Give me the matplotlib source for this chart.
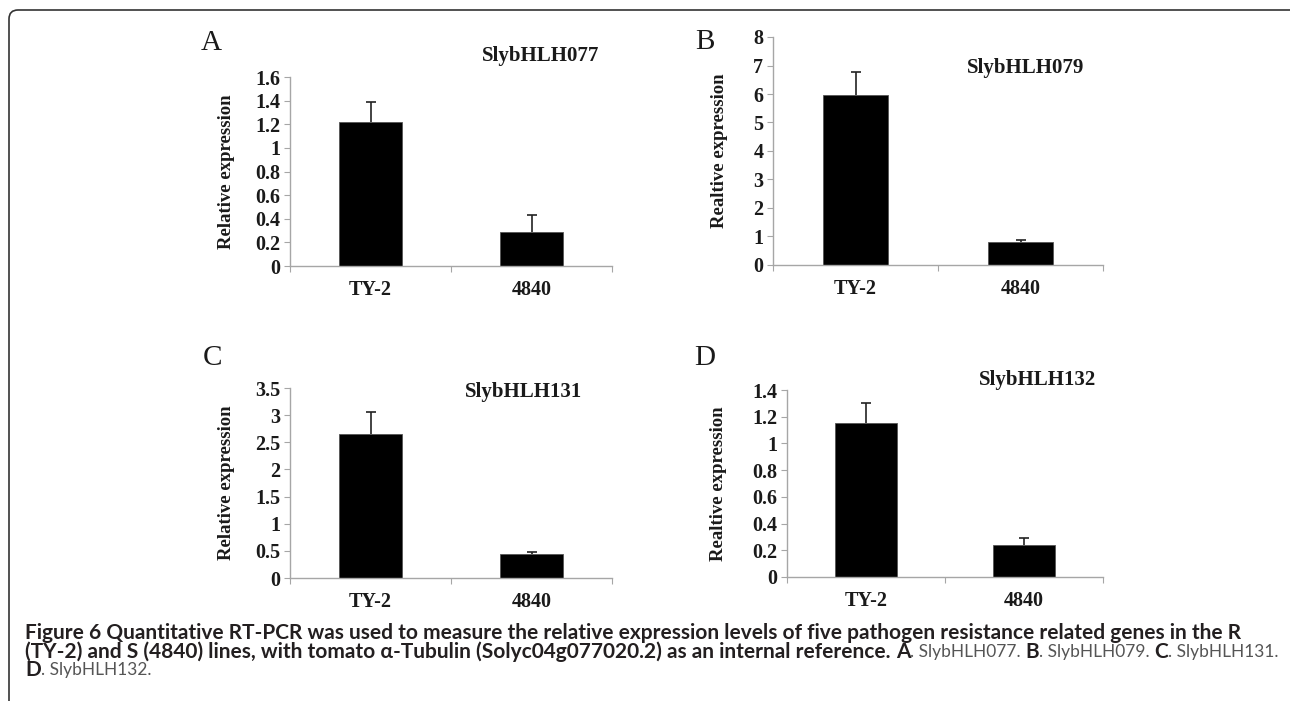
import numpy as np
import matplotlib
matplotlib.use("Agg")
import matplotlib.pyplot as plt
from matplotlib.patches import FancyBboxPatch
from matplotlib.transforms import IdentityTransform
from matplotlib.ticker import FixedLocator, FuncFormatter

# data
lines = ["TY-2", "4840"]
genes = ["SlybHLH077", "SlybHLH079", "SlybHLH131", "SlybHLH132"]
panel_letters = ["A", "B", "C", "D"]
ylabels = ["Relative expression", "Realtive expression",
           "Relative expression", "Realtive expression"]
mean_077 = [1.22, 0.29]
err_077 = [0.17, 0.14]
mean_079 = [5.98, 0.80]
err_079 = [0.78, 0.07]
mean_131 = [2.65, 0.45]
err_131 = [0.41, 0.03]
mean_132 = [1.15, 0.24]
err_132 = [0.15, 0.05]
ymax = [1.6, 8, 3.5, 1.4]
ystep = [0.2, 1, 0.5, 0.2]

means = [mean_077, mean_079, mean_131, mean_132]
errs = [err_077, err_079, err_131, err_132]

W, H = 1290, 701
fig = plt.figure(figsize=(W / 100, H / 100), dpi=100)

# axes boxes in pixels: left, right, top(ymax), bottom(0)
boxes = [(290, 612, 77, 266), (773, 1103, 37, 265),
         (290, 612, 388, 578), (787, 1103, 390, 577)]
title_pos = [(541, 56), (1026, 68), (524, 392), (1038, 380)]
letter_pos = [(211, 43), (705, 42), (212, 358), (705, 358)]
ylab_x = [235, 728, 235, 727]

serif = "Liberation Serif"
axis_grey = "#a6a6a6"
ink = "#1a1a1a"

for i in range(4):
    l, r, t, b = boxes[i]
    ax = fig.add_axes([l / W, 1 - b / H, (r - l) / W, (b - t) / H])
    x = np.arange(len(lines)) + 0.5
    m = np.array(means[i])
    e = np.array(errs[i])
    ax.bar(x, m, width=0.39, color="black", edgecolor="#555555", linewidth=0.6, zorder=2)
    # upper error bars only: stem plus a cap at the top
    ax.errorbar(x, m, yerr=[np.zeros(len(lines)), e], fmt="none",
                ecolor="#222222", elinewidth=1.2, capsize=0, zorder=1)
    ax.plot(x, m + e, linestyle="none", marker="_", markersize=7, markeredgewidth=1.2,
            color="#222222", zorder=1)
    ax.set_xlim(0, 2)
    ax.set_ylim(0, ymax[i])
    ax.yaxis.set_major_locator(FixedLocator(np.arange(0, ymax[i] + 1e-9, ystep[i])))
    ax.yaxis.set_major_formatter(FuncFormatter(lambda v, p: f"{round(v, 2):g}"))
    ax.xaxis.set_major_locator(FixedLocator([0, 1, 2]))
    ax.xaxis.set_major_formatter(FuncFormatter(lambda v, p: ""))
    ax.xaxis.set_minor_locator(FixedLocator(x))
    ax.set_xticklabels(lines, minor=True)
    ax.tick_params(axis="x", which="minor", length=0, pad=10)
    ax.tick_params(axis="x", which="major", length=4, color=axis_grey, direction="out")
    ax.tick_params(axis="y", length=4, color=axis_grey, direction="out", pad=3)
    for lab in ax.get_yticklabels() + ax.get_xticklabels(minor=True):
        lab.set_fontfamily(serif)
        lab.set_fontweight("bold")
        lab.set_fontsize(14.5)
        lab.set_color(ink)
    for side in ["top", "right"]:
        ax.spines[side].set_visible(False)
    for side in ["left", "bottom"]:
        ax.spines[side].set_color(axis_grey)
        ax.spines[side].set_linewidth(1.0)
    ax.set_ylabel(ylabels[i], fontfamily=serif, fontweight="bold", fontsize=13.5, color=ink)
    ax.yaxis.set_label_coords((ylab_x[i] - l) / (r - l), 0.5)

    tx, ty = title_pos[i]
    fig.text(tx / W, 1 - ty / H, genes[i], ha="center", va="center",
             fontfamily=serif, fontweight="bold", fontsize=15, color=ink)
    lx, ly = letter_pos[i]
    fig.text(lx / W, 1 - ly / H, panel_letters[i], ha="center", va="center",
             fontfamily=serif, fontsize=21, color=ink)

# rounded frame: only top and left edges fall inside the picture
frame = FancyBboxPatch((9, -30), 1292, H - 10 + 30, boxstyle="round,pad=0,rounding_size=9",
                       transform=IdentityTransform(), fill=False, edgecolor="#333333",
                       linewidth=1.2, zorder=10)
fig.patches.append(frame)

# caption, mixed bold/regular pieces laid out left to right
cap_font = ["Lato", "DejaVu Sans"]
cap_lines = [
    [("Figure 6 Quantitative RT-PCR was used to measure the relative expression levels of five pathogen resistance related genes in the R", "bold")],
    [("(TY-2) and S (4840) lines, with tomato \u03b1-Tubulin (Solyc04g077020.2) as an internal reference. ", "bold"),
     ("A", "bold"), (". SlybHLH077. ", "normal"), ("B", "bold"), (". SlybHLH079. ", "normal"),
     ("C", "bold"), (". SlybHLH131.", "normal")],
    [("D", "bold"), (". SlybHLH132.", "normal")],
]
cap_y = [633, 652, 670]
cap_x0 = 25
line1_end = 1243
line2_end = 1277

fig.canvas.draw()
renderer = fig.canvas.get_renderer()


def text_width(s, weight, size):
    probe = fig.text(0, 0, s, fontfamily=cap_font, fontweight=weight, fontsize=size)
    w = probe.get_window_extent(renderer).width
    probe.remove()
    return w


# bold size from line 1, light size so that line 2 ends where it does in the figure
bold_size = 10 * (line1_end - cap_x0) / text_width(cap_lines[0][0][0], "bold", 10)
wb = sum(text_width(s, wt, bold_size) for s, wt in cap_lines[1] if wt == "bold")
wr = sum(text_width(s, wt, 10) for s, wt in cap_lines[1] if wt == "normal")
light_size = 10 * (line2_end - cap_x0 - wb) / wr

for row, y in zip(cap_lines, cap_y):
    xpos = cap_x0
    for txt, wt in row:
        col = "#231f20" if wt == "bold" else "#555555"
        size = bold_size if wt == "bold" else light_size
        t = fig.text(xpos / W, 1 - y / H, txt, ha="left", va="center", fontfamily=cap_font,
                     fontweight=wt, fontsize=size, color=col)
        xpos = t.get_window_extent(renderer).x1

fig.savefig("out.png", dpi=100)
